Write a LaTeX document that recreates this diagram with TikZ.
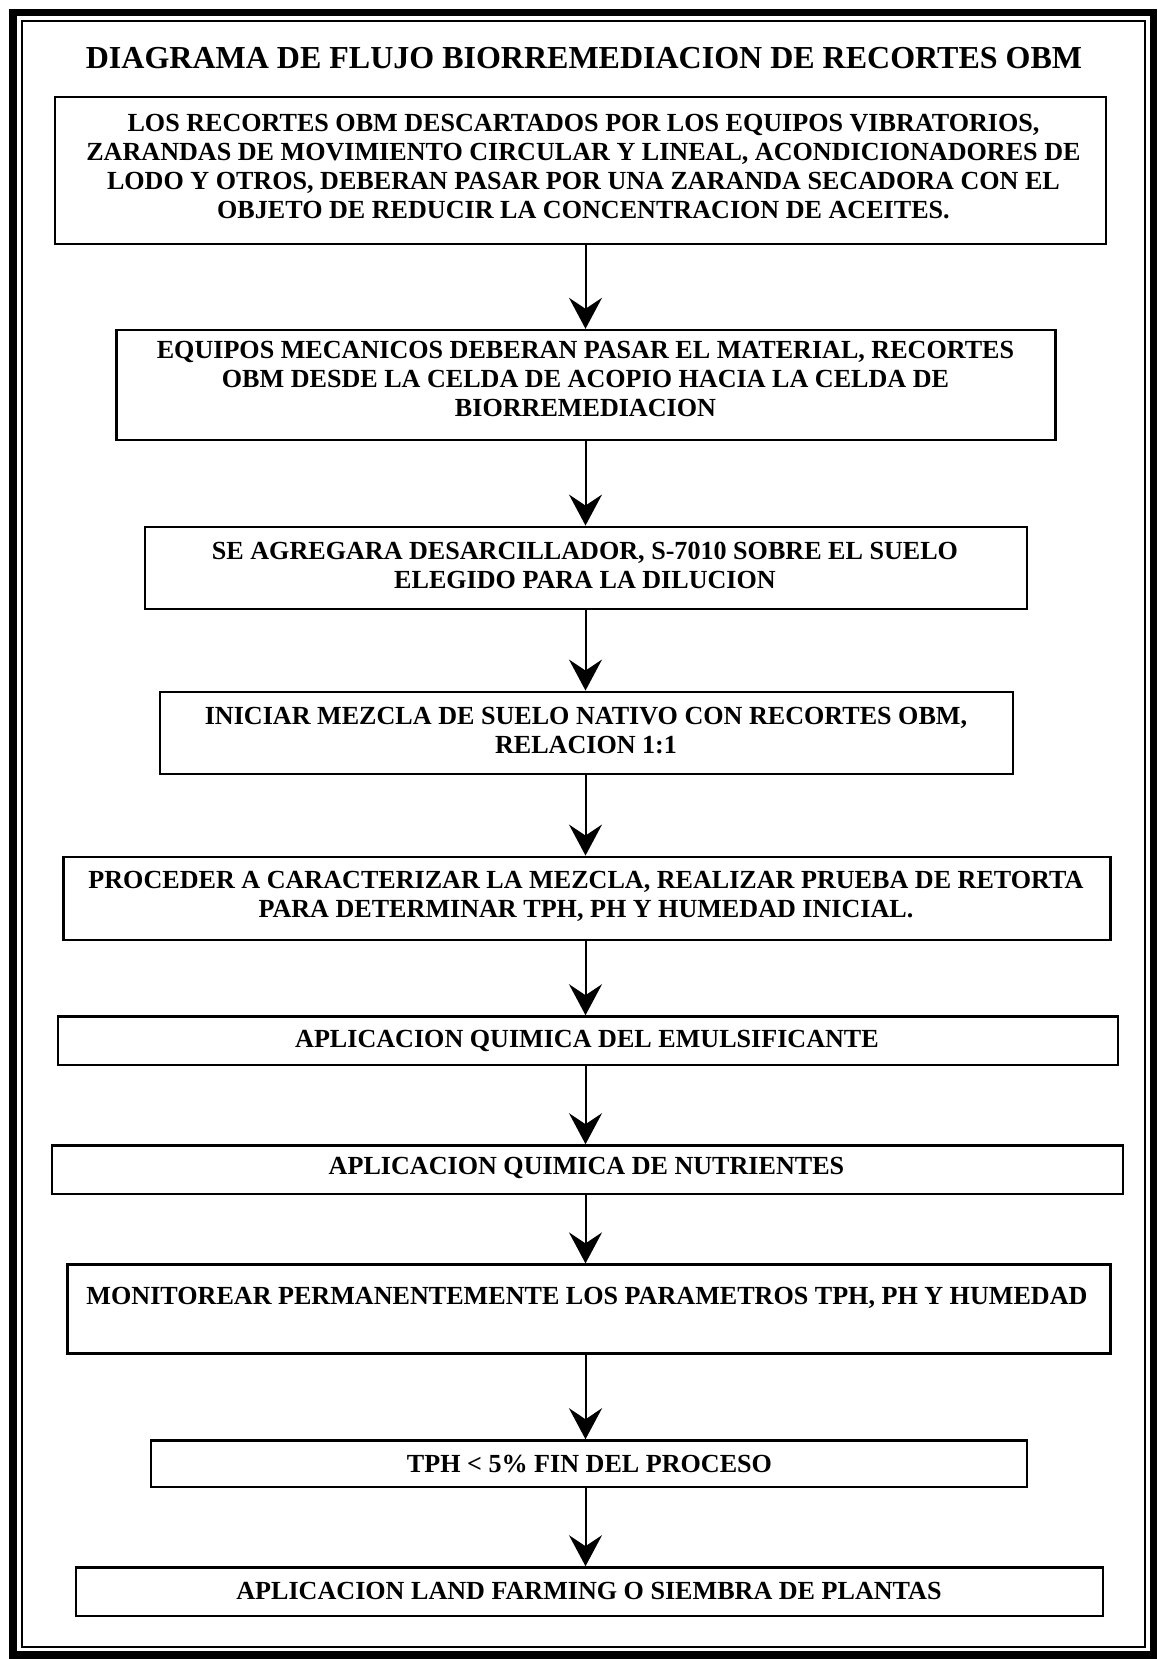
\documentclass[tikz,border=0pt]{standalone}
\usepackage{fontspec}
\setmainfont{Liberation Serif}
\usetikzlibrary{arrows.meta,calc}

\begin{document}
\begin{tikzpicture}[x=1pt,y=-1pt,
  stepbox/.style={draw, line width=2.4pt, inner sep=0pt},
  steptext/.style={align=center, inner sep=0pt,
    font=\bfseries\fontsize{26.1}{29}\selectfont},
  titletext/.style={inner sep=0pt, font=\bfseries\fontsize{32}{36}\selectfont},
  flow/.style={line width=2pt, -{Stealth[length=31pt,width=33pt,inset=11pt]}},
  frameout/.style={line width=7.5pt},
  framein/.style={line width=2pt}]

% page and double frame
\useasboundingbox (0,0) rectangle (1157,1659);
\fill[white] (0,0) rectangle (1157,1659);
\draw[frameout] (13,12.5) rectangle (1153.5,1655);
\draw[framein] (21.5,21) rectangle (1145,1646.5);

% title
\node[titletext] (title) at (584,58) {DIAGRAMA DE FLUJO BIORREMEDIACION DE RECORTES OBM};

% process boxes
\node[stepbox, minimum width=1051pt, minimum height=147pt] (b1) at (580.5,170.5) {};
\node[stepbox, minimum width=939pt,  minimum height=110pt] (b2) at (586,385) {};
\node[stepbox, minimum width=882pt,  minimum height=82.5pt] (b3) at (586,568) {};
\node[stepbox, minimum width=853.5pt,minimum height=82.5pt] (b4) at (586.5,733) {};
\node[stepbox, minimum width=1047pt, minimum height=83.5pt] (b5) at (587,898.5) {};
\node[stepbox, minimum width=1060pt, minimum height=48.6pt] (b6) at (588,1040.7) {};
\node[stepbox, minimum width=1071pt, minimum height=48.6pt] (b7) at (587.5,1169.7) {};
\node[stepbox, minimum width=1043pt, minimum height=88.8pt] (b8) at (589,1309) {};
\node[stepbox, minimum width=876pt,  minimum height=46.5pt] (b9) at (589,1463.7) {};
\node[stepbox, minimum width=1027pt, minimum height=48.6pt] (b10) at (589.5,1591.7) {};

% box texts
\node[steptext] (t1) at (583.5,167) {LOS RECORTES OBM DESCARTADOS POR LOS EQUIPOS VIBRATORIOS,\\
ZARANDAS DE MOVIMIENTO CIRCULAR Y LINEAL, ACONDICIONADORES DE\\
LODO Y OTROS, DEBERAN PASAR POR UNA ZARANDA SECADORA CON EL\\
OBJETO DE REDUCIR LA CONCENTRACION DE ACEITES.};
\node[steptext] (t2) at (585.5,379) {EQUIPOS MECANICOS DEBERAN PASAR EL MATERIAL, RECORTES\\
OBM DESDE LA CELDA DE ACOPIO HACIA LA CELDA DE\\
BIORREMEDIACION};
\node[steptext] (t3) at (585,565) {SE AGREGARA DESARCILLADOR, S-7010 SOBRE EL SUELO\\
ELEGIDO PARA LA DILUCION};
\node[steptext] (t4) at (586,731) {INICIAR MEZCLA DE SUELO NATIVO CON RECORTES OBM,\\
RELACION 1:1};
\node[steptext] (t5) at (586,896) {PROCEDER A CARACTERIZAR LA MEZCLA, REALIZAR PRUEBA DE RETORTA\\
PARA DETERMINAR TPH, PH Y HUMEDAD INICIAL.};
\node[steptext] (t6) at (587,1040.7) {APLICACION QUIMICA DEL EMULSIFICANTE};
\node[steptext] (t7) at (586.5,1167.6) {APLICACION QUIMICA DE NUTRIENTES};
\node[steptext] (t8) at (587,1297.5) {MONITOREAR PERMANENTEMENTE LOS PARAMETROS TPH, PH Y HUMEDAD};
\node[steptext] (t9) at (589.5,1463.7) {TPH < 5\% FIN DEL PROCESO};
\node[steptext] (t10) at (589,1590.6) {APLICACION LAND FARMING O SIEMBRA DE PLANTAS};

% connectors along a common vertical spine
\coordinate (spine) at (585.5,0);
\foreach \a/\b in {b1/b2,b2/b3,b3/b4,b4/b5,b5/b6,b6/b7,b7/b8,b8/b9,b9/b10}
  \draw[flow] (\a.south -| spine) -- (\b.north -| spine);
\end{tikzpicture}
\end{document}
